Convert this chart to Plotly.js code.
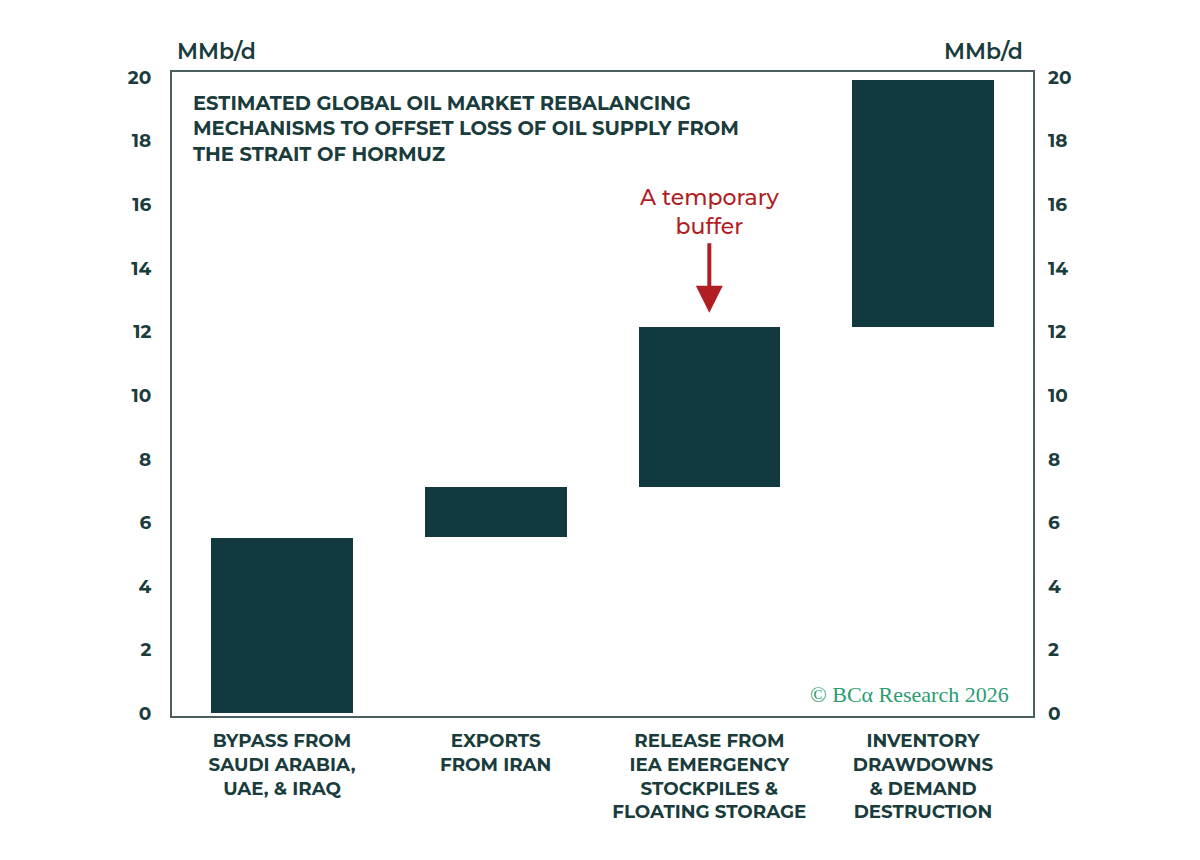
<!DOCTYPE html>
<html>
<head>
<meta charset="utf-8">
<script src="https://cdn.plot.ly/plotly-3.0.1.min.js"></script>
<style>html,body{margin:0;padding:0;background:#fff;}#chart{width:1200px;height:860px;}</style>
</head>
<body>
<div id="chart"></div>
<script>
// Data
var categories = [
  "BYPASS FROM<br>SAUDI ARABIA,<br>UAE, & IRAQ",
  "EXPORTS<br>FROM IRAN",
  "RELEASE FROM<br>IEA EMERGENCY<br>STOCKPILES &<br>FLOATING STORAGE",
  "INVENTORY<br>DRAWDOWNS<br>& DEMAND<br>DESTRUCTION"
];
var barLows  = [0, 5.55, 7.12, 12.15];
var barHighs = [5.52, 7.12, 12.15, 19.92];
var yTicks = [0, 2, 4, 6, 8, 10, 12, 14, 16, 18, 20];

var dark = "#11393f";
var textCol = "#1a3c3c";
var lineCol = "#4c5f60";
var red = "#b01e24";
var green = "#2a9c72";

var heights = barHighs.map(function(h, i){ return h - barLows[i]; });
var xIdx = categories.map(function(c, i){ return i; });

var traces = [
  {
    type: "bar",
    x: xIdx,
    y: heights,
    base: barLows,
    marker: {color: dark, line: {width: 0}},
    width: 0.663,
    hoverinfo: "skip"
  },
  {
    type: "scatter",
    x: [], y: [],
    yaxis: "y2",
    hoverinfo: "skip",
    showlegend: false
  }
];

var mont = "Montserrat, 'DejaVu Sans', sans-serif";
var tickFont = {family: mont, size: 18.5, color: textCol, weight: 700};

var layout = {
  width: 1200, height: 860,
  margin: {l: 172, r: 167, t: 72, b: 144},
  paper_bgcolor: "#ffffff",
  plot_bgcolor: "#ffffff",
  showlegend: false,
  bargap: 0,
  xaxis: {
    range: [-0.515, 3.515],
    tickmode: "array",
    tickvals: xIdx,
    ticktext: categories,
    showgrid: false, zeroline: false,
    showline: true, mirror: true, linecolor: lineCol, linewidth: 2,
    ticks: "", ticklabelstandoff: 7,
    tickfont: {family: mont, size: 18.3, color: textCol, weight: 700},
    fixedrange: true
  },
  yaxis: {
    range: [-0.08, 20.17],
    tickmode: "array",
    tickvals: yTicks,
    ticktext: yTicks.map(String),
    showgrid: false, zeroline: false,
    showline: true, mirror: true, linecolor: lineCol, linewidth: 2,
    ticks: "", ticklabelstandoff: 15,
    tickfont: tickFont,
    fixedrange: true
  },
  yaxis2: {
    overlaying: "y",
    side: "right",
    range: [-0.08, 20.17],
    tickmode: "array",
    tickvals: yTicks,
    ticktext: yTicks.map(String),
    showgrid: false, zeroline: false, showline: false,
    ticks: "", ticklabelstandoff: 14,
    tickfont: tickFont,
    fixedrange: true
  },
  annotations: [
    {
      xref: "paper", yref: "paper", x: 0.003, y: 1.032,
      xanchor: "left", yanchor: "middle", showarrow: false,
      text: "MMb/d",
      font: {family: mont, size: 22, color: textCol, weight: 600}
    },
    {
      xref: "paper", yref: "paper", x: 0.991, y: 1.032,
      xanchor: "right", yanchor: "middle", showarrow: false,
      text: "MMb/d",
      font: {family: mont, size: 22, color: textCol, weight: 600}
    },
    {
      xref: "paper", yref: "paper", x: 0.022, y: 0.974,
      xanchor: "left", yanchor: "top", showarrow: false, align: "left",
      text: "ESTIMATED GLOBAL OIL MARKET REBALANCING<br>MECHANISMS TO OFFSET LOSS OF OIL SUPPLY FROM<br>THE STRAIT OF HORMUZ",
      font: {family: mont, size: 19.5, color: textCol, weight: 700}
    },
    {
      xref: "x", yref: "y", x: 2, y: 15.77,
      xanchor: "center", yanchor: "middle", showarrow: false, align: "center",
      text: "A temporary<br>buffer",
      font: {family: mont, size: 22, color: red, weight: 500}
    },
    {
      xref: "x", yref: "y", x: 2, y: 12.6,
      axref: "pixel", ayref: "pixel", ax: 0, ay: -71,
      text: "", showarrow: true,
      arrowcolor: red, arrowwidth: 4, arrowhead: 2, arrowsize: 1.35
    },
    {
      xref: "paper", yref: "paper", x: 0.974, y: 0.034,
      xanchor: "right", yanchor: "middle", showarrow: false,
      text: "© BCα Research 2026",
      font: {family: "'Liberation Serif', 'DejaVu Serif', serif", size: 22, color: green}
    }
  ]
};

Plotly.newPlot("chart", traces, layout, {displayModeBar: false, staticPlot: true});
</script>
</body>
</html>
